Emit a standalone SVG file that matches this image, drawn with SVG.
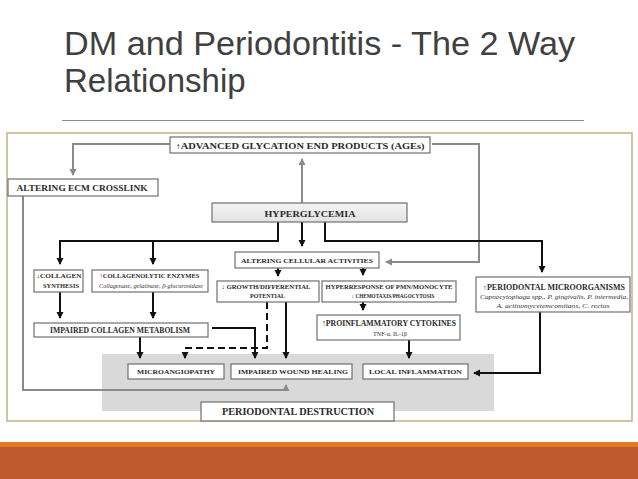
<svg xmlns="http://www.w3.org/2000/svg" width="638" height="479" viewBox="0 0 638 479">
<style>
.title{font-family:"Liberation Sans",Arial,sans-serif;font-size:33px;fill:#404040}
.b{fill:#fff;stroke:#707070;stroke-width:1.2}
.t{font-family:"Liberation Serif","Times New Roman",serif;font-weight:bold;fill:#2a2a2a;text-anchor:middle}
.i{font-family:"Liberation Serif","Times New Roman",serif;font-style:italic;fill:#333;text-anchor:middle}
.n{font-family:"Liberation Serif","Times New Roman",serif;fill:#333;text-anchor:middle}
.k{fill:none;stroke:#111;stroke-width:2}
.g{fill:none;stroke:#8a8a8a;stroke-width:2}
.d{fill:none;stroke:#111;stroke-width:2;stroke-dasharray:7 4}
</style>
<defs>
<marker id="ak" markerUnits="userSpaceOnUse" markerWidth="8" markerHeight="8" refX="6" refY="3.5" orient="auto"><path d="M0,0 L7,3.5 L0,7 z" fill="#111"/></marker>
<marker id="ag" markerUnits="userSpaceOnUse" markerWidth="8" markerHeight="8" refX="6" refY="3.5" orient="auto"><path d="M0,0 L7,3.5 L0,7 z" fill="#8a8a8a"/></marker>
<linearGradient id="hg" x1="0" y1="0" x2="0" y2="1"><stop offset="0" stop-color="#f4f4f4"/><stop offset="1" stop-color="#e2e2e2"/></linearGradient>
</defs>
<rect width="638" height="479" fill="#fff"/>
<text class="title" x="64" y="55" textLength="511" lengthAdjust="spacingAndGlyphs">DM and Periodontitis - The 2 Way</text>
<text class="title" x="64" y="92">Relationship</text>
<line x1="62" y1="120.5" x2="584" y2="120.5" stroke="#8c8c8c" stroke-width="1"/>
<rect x="7" y="133" width="625" height="288" fill="#fff" stroke="#c9b48e" stroke-width="1.6"/>
<rect id="shade" x="102" y="354" width="392" height="57" fill="#d9d9d9"/>
<g id="connectors">
<path class="g" d="M170,144 H73 V175" marker-end="url(#ag)"/>
<path class="g" d="M302,203 V159" marker-end="url(#ag)"/>
<path class="g" d="M432,144 H479 V262 H386" marker-end="url(#ag)"/>
<path class="g" d="M23,196 V390 H286 V385" marker-end="url(#ag)"/>
<path class="k" d="M278,222 V241 H60 V264" marker-end="url(#ak)"/>
<path class="k" d="M153,241 V264" marker-end="url(#ak)"/>
<path class="k" d="M302,222 V246" marker-end="url(#ak)"/>
<path class="k" d="M325,222 V241 H542 V272" marker-end="url(#ak)"/>
<path class="k" d="M278,268 V276" marker-end="url(#ak)"/>
<path class="k" d="M363,268 V275" marker-end="url(#ak)"/>
<path class="k" d="M60,292 V318" marker-end="url(#ak)"/>
<path class="k" d="M153,292 V318" marker-end="url(#ak)"/>
<path class="k" d="M363,302 V310" marker-end="url(#ak)"/>
<path class="k" d="M212,328 H255 V358" marker-end="url(#ak)"/>
<path class="k" d="M140,337 V358" marker-end="url(#ak)"/>
<path class="d" d="M267,302 V348 H185 V356"/>
<path class="k" d="M185,352 V358" marker-end="url(#ak)"/>
<path class="k" d="M286,302 V358" marker-end="url(#ak)"/>
<path class="k" d="M409,340 V358" marker-end="url(#ak)"/>
<path class="k" d="M540,312 V373 H474" marker-end="url(#ak)"/>
</g>
<g id="ages"><rect class="b" x="170" y="137" width="260" height="16"/><text class="t" x="300" y="148.5" font-size="8" textLength="249" lengthAdjust="spacingAndGlyphs">↑ADVANCED GLYCATION END PRODUCTS (AGEs)</text></g>
<g id="ecm"><rect class="b" x="8" y="179" width="150" height="17"/><text class="t" x="82" y="190.5" font-size="7.5" textLength="131" lengthAdjust="spacingAndGlyphs">ALTERING ECM CROSSLINK</text></g>
<g id="hyper"><rect x="212" y="203" width="195" height="19" fill="url(#hg)" stroke="#707070" stroke-width="1.2"/><text class="t" x="310" y="216.5" font-size="9" textLength="91" lengthAdjust="spacingAndGlyphs">HYPERGLYCEMIA</text></g>
<g id="cellular"><rect class="b" x="235" y="252" width="144" height="16"/><text class="t" x="307" y="263" font-size="7" textLength="132" lengthAdjust="spacingAndGlyphs">ALTERING CELLULAR ACTIVITIES</text></g>
<g id="collsyn"><rect class="b" x="34" y="270" width="49" height="22"/><text class="t" x="59" y="278" font-size="6.5" textLength="45" lengthAdjust="spacingAndGlyphs">↓COLLAGEN</text><text class="t" x="61" y="287.5" font-size="6.5" textLength="36" lengthAdjust="spacingAndGlyphs">SYNTHESIS</text></g>
<g id="collenz"><rect class="b" x="92" y="270" width="116" height="22"/><text class="t" x="149.5" y="278" font-size="6.5" textLength="100" lengthAdjust="spacingAndGlyphs">↑COLLAGENOLYTIC ENZYMES</text><text class="i" x="151" y="287.5" font-size="5.5" textLength="104" lengthAdjust="spacingAndGlyphs">Collagenase, gelatinase, β-glucuronidase</text></g>
<g id="growth"><rect class="b" x="217" y="281" width="102" height="21"/><text class="t" x="266" y="289" font-size="6.5" textLength="89" lengthAdjust="spacingAndGlyphs">↓ GROWTH/DIFFERENTIAL</text><text class="t" x="267.5" y="298" font-size="6.5" textLength="35" lengthAdjust="spacingAndGlyphs">POTENTIAL</text></g>
<g id="hyperresp"><rect class="b" x="322" y="281" width="134" height="21"/><text class="t" x="389" y="289" font-size="6" textLength="127" lengthAdjust="spacingAndGlyphs">HYPERRESPONSE OF PMN/MONOCYTE</text><text class="t" x="393" y="298" font-size="6" textLength="83" lengthAdjust="spacingAndGlyphs">↓ CHEMOTAXIS/PHAGOCYTOSIS</text></g>
<g id="proinfl"><rect class="b" x="317" y="315" width="143" height="25"/><text class="t" x="389" y="326" font-size="8.5" textLength="134" lengthAdjust="spacingAndGlyphs">↑PROINFLAMMATORY CYTOKINES</text><text class="n" x="390" y="335.5" font-size="5.5" textLength="34" lengthAdjust="spacingAndGlyphs">TNF-α, IL-1β</text></g>
<g id="micro"><rect class="b" x="476" y="277" width="154" height="35"/><text class="t" x="554" y="290" font-size="7.5" textLength="142" lengthAdjust="spacingAndGlyphs">↑PERIODONTAL MICROORGANISMS</text><text class="i" x="554" y="298.5" font-size="5.5" textLength="148" lengthAdjust="spacingAndGlyphs">Capnocytophaga spp., P. gingivalis, P. intermedia,</text><text class="i" x="553" y="307.5" font-size="5.5" textLength="113" lengthAdjust="spacingAndGlyphs">A. actinomycetemcomitans, C. rectus</text></g>
<g id="impcoll"><rect class="b" x="34" y="323" width="174" height="14"/><text class="t" x="120" y="333" font-size="7.5" textLength="140" lengthAdjust="spacingAndGlyphs">IMPAIRED COLLAGEN METABOLISM</text></g>
<g id="microang"><rect class="b" x="128" y="364" width="96" height="15"/><text class="t" x="176" y="374" font-size="7" textLength="78" lengthAdjust="spacingAndGlyphs">MICROANGIOPATHY</text></g>
<g id="wound"><rect class="b" x="231" y="364" width="121" height="15"/><text class="t" x="293" y="374" font-size="7" textLength="110" lengthAdjust="spacingAndGlyphs">IMPAIRED WOUND HEALING</text></g>
<g id="localinf"><rect class="b" x="363" y="364" width="105" height="15"/><text class="t" x="415.5" y="374" font-size="7" textLength="93" lengthAdjust="spacingAndGlyphs">LOCAL INFLAMMATION</text></g>
<g id="destruction"><rect class="b" x="201" y="402" width="193" height="19"/><text class="t" x="298" y="415" font-size="10" textLength="152" lengthAdjust="spacingAndGlyphs">PERIODONTAL DESTRUCTION</text></g>
<rect x="0" y="442" width="638" height="5" fill="#e07b24"/>
<rect x="0" y="447" width="638" height="32" fill="#be5a2d"/>
</svg>
